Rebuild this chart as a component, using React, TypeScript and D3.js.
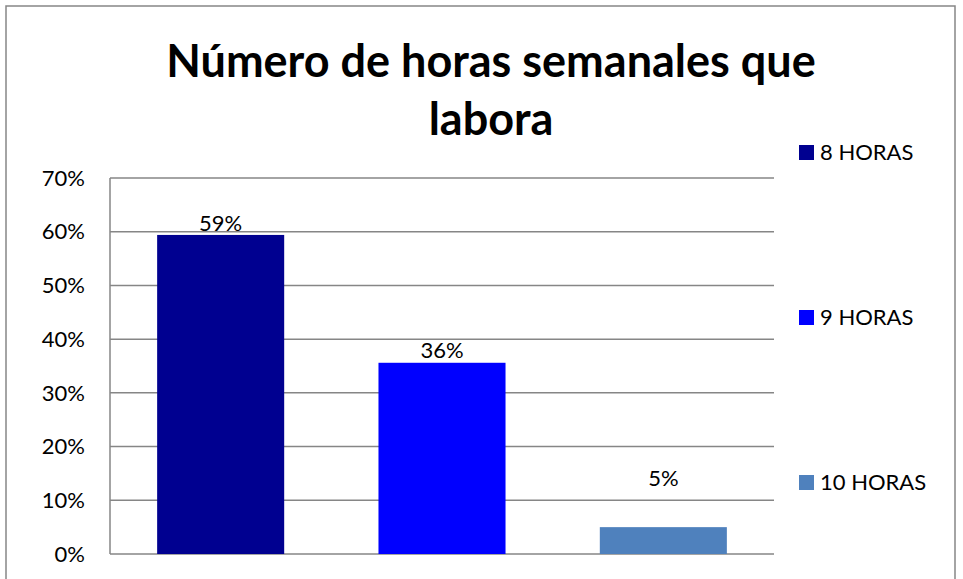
import * as d3 from 'd3'

const categories = ['8 HORAS', '9 HORAS', '10 HORAS']
const values = [0.594, 0.356, 0.05]
const valueLabels = ['59%', '36%', '5%']
const colors = ['#000090', '#0000FF', '#4F81BD']
const yTicks = [0, 0.1, 0.2, 0.3, 0.4, 0.5, 0.6, 0.7]
const titleLines = ['Número de horas semanales que', 'labora']

export default function App() {
    const width = 963
    const height = 579
    const font = 'Lato, "Open Sans", sans-serif'

    // plot area
    const left = 110
    const right = 774
    const top = 178
    const bottom = 554

    const x = d3.scaleBand().domain(categories).range([left, right]).paddingInner(0.426).paddingOuter(0.213)
    const y = d3.scaleLinear().domain([0, 0.7]).range([bottom, top])

    // legend spots
    const legendY = d3.scalePoint().domain(categories).range([152, 482])

    return (
        <svg width={width} height={height} style={{position: 'absolute', left: 0, top: 0}}>
            <rect x={0} y={0} width={width} height={height} fill="white" />
            <rect x={6} y={6} width={949} height={600} fill="none" stroke="#868686" strokeWidth={1.5} />

            {titleLines.map((t, i) => (
                <text key={t} x={491} y={61 + i * 58} dy="0.35em" textAnchor="middle"
                    fontFamily={font} fontWeight="bold" fontSize={45} fill="#000">{t}</text>
            ))}

            {/* gridlines */}
            {yTicks.map(t => (
                <g key={t}>
                    <line x1={left} x2={right} y1={y(t)} y2={y(t)} stroke="#868686" strokeWidth={1.5} />
                    <text x={85} y={y(t)} dy="0.35em" textAnchor="end" fontFamily={font}
                        fontSize={22} fill="#000">{d3.format('.0%')(t)}</text>
                </g>
            ))}
            <line x1={left} x2={left} y1={top} y2={bottom} stroke="#868686" strokeWidth={1.5} />

            {/* bars */}
            {categories.map((c, i) => (
                <rect key={c} x={x(c)} y={y(values[i])} width={x.bandwidth()}
                    height={bottom - y(values[i])} fill={colors[i]} />
            ))}
            {categories.map((c, i) => (
                <text key={c} x={x(c)! + x.bandwidth() / 2} y={Math.min(y(values[i]) - 12, y(0.141))}
                    dy="0.35em" textAnchor="middle" fontFamily={font} fontSize={22} fill="#000">
                    {valueLabels[i]}
                </text>
            ))}

            {/* legend */}
            {categories.map((c, i) => (
                <g key={c} transform={`translate(799, ${legendY(c)})`}>
                    <rect x={0} y={-7} width={15} height={15} fill={colors[i]} />
                    <text x={21} y={0} dy="0.35em" fontFamily={font} fontSize={22} fill="#000">{c}</text>
                </g>
            ))}
        </svg>
    )
}
